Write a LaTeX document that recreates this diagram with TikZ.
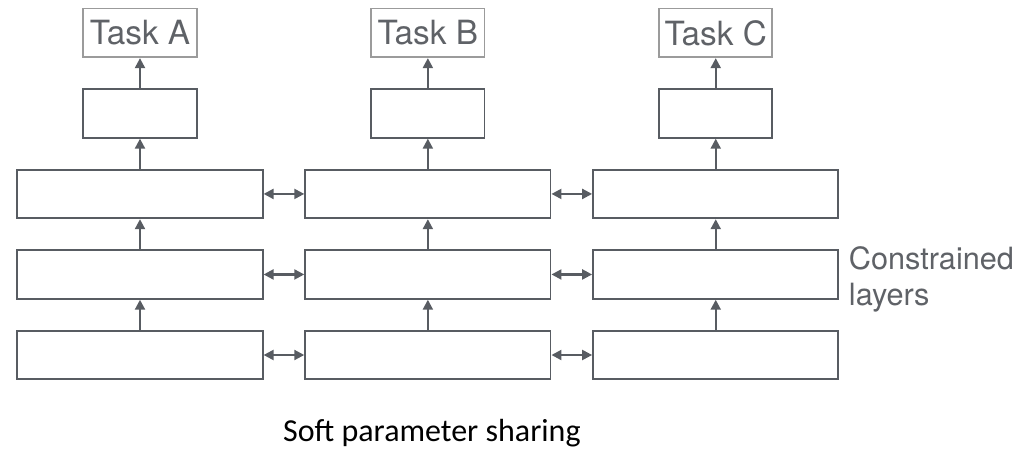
\documentclass[tikz,border=0pt]{standalone}
\usepackage{fontspec}
\usepackage{tikz}
\usetikzlibrary{arrows.meta, positioning}
\setmainfont{TeX Gyre Heros}
\newfontfamily\capfont{Carlito}
\definecolor{boxgray}{RGB}{88,92,98}
\definecolor{taskgray}{RGB}{155,155,155}
\definecolor{labelgray}{RGB}{95,98,103}

\begin{document}
\begin{tikzpicture}[
  x=0.75pt, y=-0.75pt,
  node distance=22.5pt and 30.5pt,
  layer/.style={draw=boxgray, line width=1.4pt, minimum width=184pt,
                minimum height=36.5pt, inner sep=0pt},
  headbox/.style={draw=boxgray, line width=1.4pt, minimum width=85pt,
                  minimum height=36.5pt, inner sep=0pt},
  taskbox/.style={draw=taskgray, line width=1.4pt, minimum width=85pt,
                  minimum height=36.5pt, inner sep=0pt, text=labelgray,
                  font=\fontsize{25pt}{30pt}\selectfont},
  uparr/.style={-{Triangle[length=7.5pt, width=7.5pt]}, line width=1.6pt, boxgray},
  sidearr/.style={{Triangle[length=7.5pt, width=7.5pt]}-{Triangle[length=7.5pt, width=7.5pt]},
                  line width=1.6pt, boxgray}
]
\useasboundingbox (0,0) rectangle (1019,449);
% bottom row first, the rest stacked on it
\node[layer] (a3) at (140,355) {};
\node[layer, right=of a3] (b3) {};
\node[layer, right=of b3] (c3) {};
\node[layer, above=of a3] (a2) {};
\node[layer, above=of b3] (b2) {};
\node[layer, above=of c3] (c2) {};
\node[layer, above=of a2] (a1) {};
\node[layer, above=of b2] (b1) {};
\node[layer, above=of c2] (c1) {};
% task specific heads
\node[headbox, above=of a1] (ha) {};
\node[headbox, above=of b1] (hb) {};
\node[headbox, above=of c1] (hc) {};
\node[taskbox, above=of ha] (ta) {Task A};
\node[taskbox, above=of hb] (tb) {Task B};
\node[taskbox, above=of hc] (tc) {Task C};
% labels
\node[right=7pt of c2, yshift=-4pt, align=left, inner sep=0pt, text=labelgray,
      font=\fontsize{23pt}{27pt}\selectfont] (note) {Constrained\\layers};
\node[below=29pt of b3, xshift=3pt, inner sep=0pt,
      font=\capfont\fontsize{24pt}{28pt}\selectfont] (caption) {Soft parameter sharing};
% flow upwards
\foreach \a/\b in {a3/a2,a2/a1,a1/ha,ha/ta,b3/b2,b2/b1,b1/hb,hb/tb,c3/c2,c2/c1,c1/hc,hc/tc}
  \draw[uparr] (\a) -- (\b);
% soft constraints between columns
\foreach \a/\b in {a1/b1,b1/c1,a2/b2,b2/c2,a3/b3,b3/c3}
  \draw[sidearr] (\a) -- (\b);
\end{tikzpicture}
\end{document}
